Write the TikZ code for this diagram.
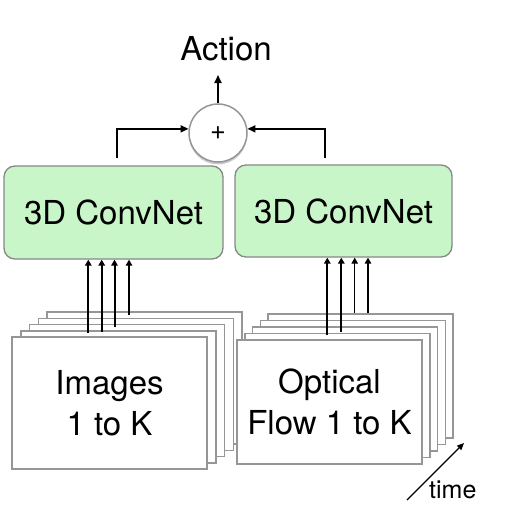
\documentclass[tikz,border=0pt]{standalone}
\usepackage{fontspec}
\setmainfont{TeX Gyre Heros}
\usetikzlibrary{arrows.meta,shadows}
\definecolor{netgreen}{RGB}{201,246,201}
\definecolor{framegray}{RGB}{150,150,150}
\definecolor{boxgray}{RGB}{135,135,135}
\tikzset{
  frame/.style={draw=framegray,line width=1.5pt,fill=white,inner sep=0pt},
  lframe/.style={frame,minimum width=195pt,minimum height=132pt},
  rframe/.style={frame,minimum width=185pt,minimum height=124pt},
  net/.style={draw=boxgray,line width=1.3pt,fill=netgreen,rounded corners=11pt,inner sep=0pt},
  bigtext/.style={font=\fontsize{33}{41}\selectfont,align=center},
  tip/.style={-{Triangle[length=6pt,width=6.5pt]}},
  thick in/.style={tip,line width=2pt},
  thin in/.style={tip,line width=1.2pt},
  mid in/.style={tip,line width=1.7pt},
  link/.style={-{Triangle[length=8pt,width=7pt]},line width=1.8pt},
}
\begin{document}
\begin{tikzpicture}[x=1pt,y=-1pt]
\useasboundingbox (0,0) rectangle (517,506);
% left stack of frames
\foreach \k in {4,3,2,1}{
  \node[lframe] (lf\k) at ({109.5+8.75*\k},{403-6.2*\k}) {};
}
\node[lframe,bigtext] (imgs) at (109.5,403) {Images\\ 1 to K};
% right stack of frames
\foreach \k in {4,3,2,1}{
  \node[rframe] (rf\k) at ({329.5+7.8*\k},{402-6.5*\k}) {};
}
\node[rframe,bigtext] (flow) at (329.5,402) {Optical\\Flow 1 to K};
% convnets
\node[net,minimum width=219pt,minimum height=93pt,bigtext] (cv1) at (113.5,212.5) {3D ConvNet};
\node[net,minimum width=217pt,minimum height=92pt,bigtext] (cv2) at (343.5,211) {3D ConvNet};
% sum node
\node[circle,draw=framegray,line width=1.5pt,fill=white,minimum size=58pt,inner sep=0pt,
      drop shadow={shadow xshift=0pt,shadow yshift=-2.5pt,opacity=0.4},
      font=\fontsize{27}{27}\selectfont] (sum) at (218,133) {+};
\node[font=\fontsize{33}{33}\selectfont,anchor=base] (act) at (226,60) {Action};
\coordinate (actend) at (218,75);
\draw[link] (sum.north) -- (actend);
% links from convnets to sum
\coordinate (l1) at (117,158);
\coordinate (r1) at (325,158);
\draw[link] (l1) |- (sum.172);
\draw[link] (r1) |- (sum.8);
% inputs left
\coordinate (a1) at (88.3,333);
\coordinate (a2) at (101.7,332);
\coordinate (a3) at (114.5,327);
\coordinate (a4) at (129,315);
\draw[thick in] (a1) -- (a1 |- cv1.south);
\draw[thick in] (a2) -- (a2 |- cv1.south);
\draw[thick in] (a3) -- (a3 |- cv1.south);
\draw[thin in] (a4) -- (a4 |- cv1.south);
% inputs right
\coordinate (b1) at (327.3,335);
\coordinate (b2) at (341.3,332);
\coordinate (b3) at (354.7,313);
\coordinate (b4) at (368,313);
\draw[thick in] (b1) -- (b1 |- cv2.south);
\draw[thick in] (b2) -- (b2 |- cv2.south);
\draw[thin in] (b3) -- (b3 |- cv2.south);
\draw[mid in] (b4) -- (b4 |- cv2.south);
% time
\coordinate (t0) at (407,500);
\coordinate (t1) at (464,443);
\draw[line width=1.3pt,-{Triangle[length=7pt,width=6pt]}] (t0) -- (t1);
\node[font=\fontsize{25}{25}\selectfont,anchor=base west,inner sep=0pt] (time) at (429,498) {time};
\end{tikzpicture}
\end{document}
